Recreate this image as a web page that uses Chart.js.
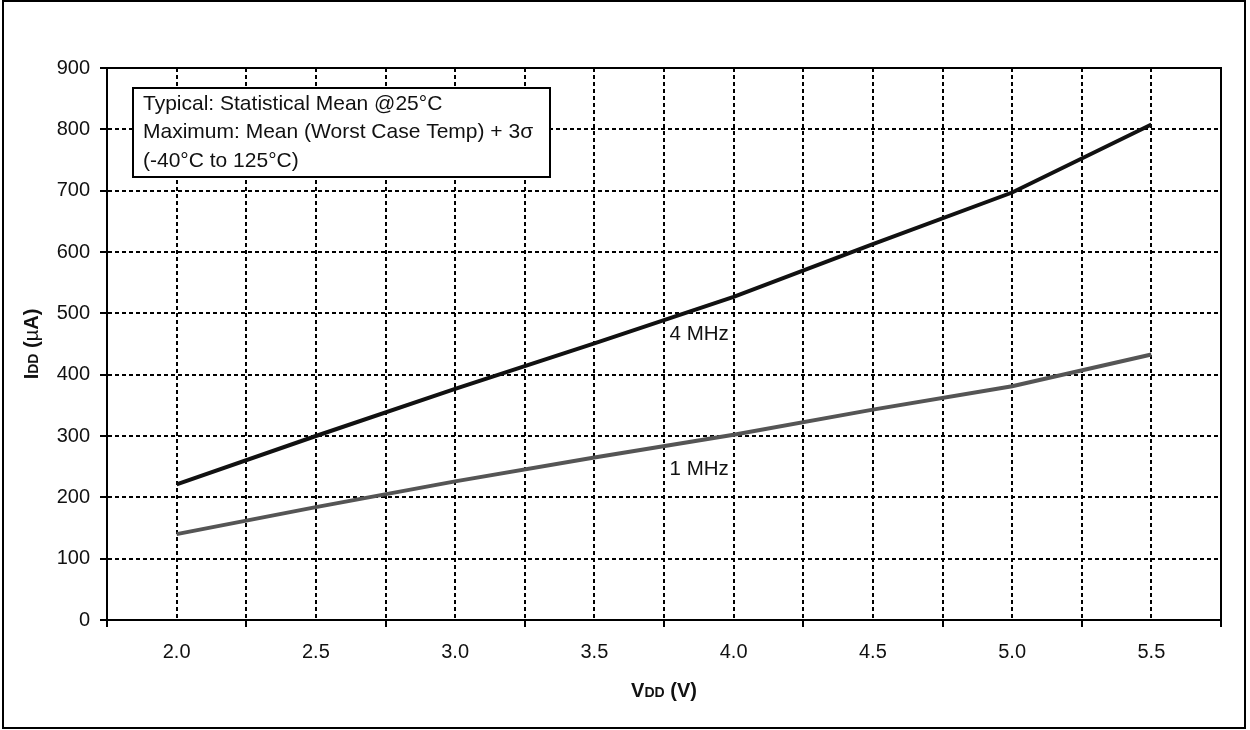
<!DOCTYPE html>
<html>
<head>
<meta charset="utf-8">
<script src="https://cdn.jsdelivr.net/npm/chart.js@4"></script>
<style>
  body { margin: 0; background: #fff; }
  canvas { display: block; }
</style>
</head>
<body>
<canvas id="iddChart" width="1250" height="730"></canvas>
<script>
const vdd = [2.0, 2.5, 3.0, 3.5, 4.0, 4.5, 5.0, 5.5];
const vddLabels = ['2.0', '2.5', '3.0', '3.5', '4.0', '4.5', '5.0', '5.5'];
const idd4MHz = [221, 300, 377, 451, 527, 613, 697, 808];
const idd1MHz = [140, 184, 226, 265, 302, 343, 381, 433];
const noteLines = [
    'Typical: Statistical Mean @25°C',
    'Maximum: Mean (Worst Case Temp) + 3σ',
    '(-40°C to 125°C)'
];
// curve labels: [text, x value, y value]
const curveLabels = [['4 MHz', 3.77, 465], ['1 MHz', 3.77, 246]];

const FONT = '"Liberation Sans", Arial, sans-serif';

// boundaries between categories get a tick mark below the axis
function isBoundary(v) {
    return Math.abs((v - 2.25) / 0.5 - Math.round((v - 2.25) / 0.5)) < 1e-6;
}

const frame = {
    id: 'frame',
    afterDraw(chart) {
        const ctx = chart.ctx;
        const area = chart.chartArea;
        const x = chart.scales.x;
        const y = chart.scales.y;
        ctx.save();

        // plot frame
        ctx.strokeStyle = '#000';
        ctx.lineWidth = 2;
        ctx.strokeRect(area.left, area.top, area.right - area.left, area.bottom - area.top);

        // outer frame
        ctx.strokeRect(3, 1, 1242, 727);

        // note box
        ctx.fillStyle = '#fff';
        ctx.fillRect(133, 88, 417, 89);
        ctx.strokeRect(133, 88, 417, 89);
        ctx.fillStyle = '#111';
        ctx.font = '21px ' + FONT;
        ctx.textBaseline = 'alphabetic';
        ctx.textAlign = 'left';
        noteLines.forEach((t, i) => ctx.fillText(t, 143, 109.5 + i * 28.5));

        // curve labels
        ctx.font = '20.5px ' + FONT;
        curveLabels.forEach(([t, vx, vy]) => {
            ctx.textBaseline = 'middle';
            ctx.fillText(t, x.getPixelForValue(vx), y.getPixelForValue(vy));
        });

        // x title: VDD (V)
        const xParts = [['V', 'bold 20px'], ['DD', 'bold 14px'], [' (V)', 'bold 20px']];
        drawParts(ctx, xParts, (area.left + area.right) / 2, 690, 0);

        // y title: IDD (µA)
        const yParts = [['I', 'bold 20px'], ['DD', 'bold 14px'], [' (', 'bold 20px'], ['µ', '20px'], ['A)', 'bold 20px']];
        ctx.save();
        ctx.translate(31, (area.top + area.bottom) / 2);
        ctx.rotate(-Math.PI / 2);
        drawParts(ctx, yParts, 0, 0, 0);
        ctx.restore();

        ctx.restore();
    }
};

function drawParts(ctx, parts, cx, cy) {
    let total = 0;
    parts.forEach(([t, f]) => { ctx.font = f + ' ' + FONT; total += ctx.measureText(t).width; });
    let px = cx - total / 2;
    ctx.fillStyle = '#111';
    ctx.textAlign = 'left';
    ctx.textBaseline = 'alphabetic';
    parts.forEach(([t, f]) => {
        ctx.font = f + ' ' + FONT;
        ctx.fillText(t, px, cy + 7);
        px += ctx.measureText(t).width;
    });
}

const ctx = document.getElementById('iddChart').getContext('2d');
new Chart(ctx, {
    type: 'line',
    data: {
        datasets: [
            {
                label: '4 MHz',
                data: vdd.map((v, i) => ({ x: v, y: idd4MHz[i] })),
                borderColor: '#111',
                borderWidth: 4,
                pointRadius: 0,
                tension: 0
            },
            {
                label: '1 MHz',
                data: vdd.map((v, i) => ({ x: v, y: idd1MHz[i] })),
                borderColor: '#555',
                borderWidth: 4,
                pointRadius: 0,
                tension: 0
            }
        ]
    },
    options: {
        responsive: false,
        animation: false,
        layout: { padding: { top: 68, right: 29, left: 0, bottom: 0 } },
        plugins: {
            legend: { display: false },
            tooltip: { enabled: false }
        },
        scales: {
            x: {
                type: 'linear',
                min: 1.75,
                max: 5.75,
                afterFit: (s) => { s.height = 110; },
                afterBuildTicks: (s) => {
                    const t = [];
                    for (let k = 0; k <= 16; k++) t.push({ value: 1.75 + k * 0.25 });
                    s.ticks = t;
                },
                ticks: {
                    autoSkip: false,
                    maxRotation: 0,
                    padding: 13,
                    color: '#111',
                    font: { family: FONT, size: 20 },
                    callback: (v) => {
                        const i = vdd.findIndex(d => Math.abs(d - v) < 1e-6);
                        return i >= 0 ? vddLabels[i] : '';
                    }
                },
                grid: {
                    color: '#000',
                    lineWidth: 2,
                    tickLength: 7,
                    tickWidth: 2,
                    tickColor: (c) => (c.tick && isBoundary(c.tick.value)) ? '#000' : 'rgba(0,0,0,0)'
                },
                border: { display: true, color: '#000', width: 2, dash: [4, 3] }
            },
            y: {
                min: 0,
                max: 900,
                afterFit: (s) => { s.width = 107; },
                ticks: {
                    stepSize: 100,
                    padding: 10,
                    color: '#111',
                    font: { family: FONT, size: 20 }
                },
                grid: {
                    color: '#000',
                    lineWidth: 2,
                    tickLength: 7,
                    tickWidth: 2,
                    tickColor: '#000'
                },
                border: { display: true, color: '#000', width: 2, dash: [4, 3] }
            }
        }
    },
    plugins: [frame]
});
</script>
</body>
</html>
